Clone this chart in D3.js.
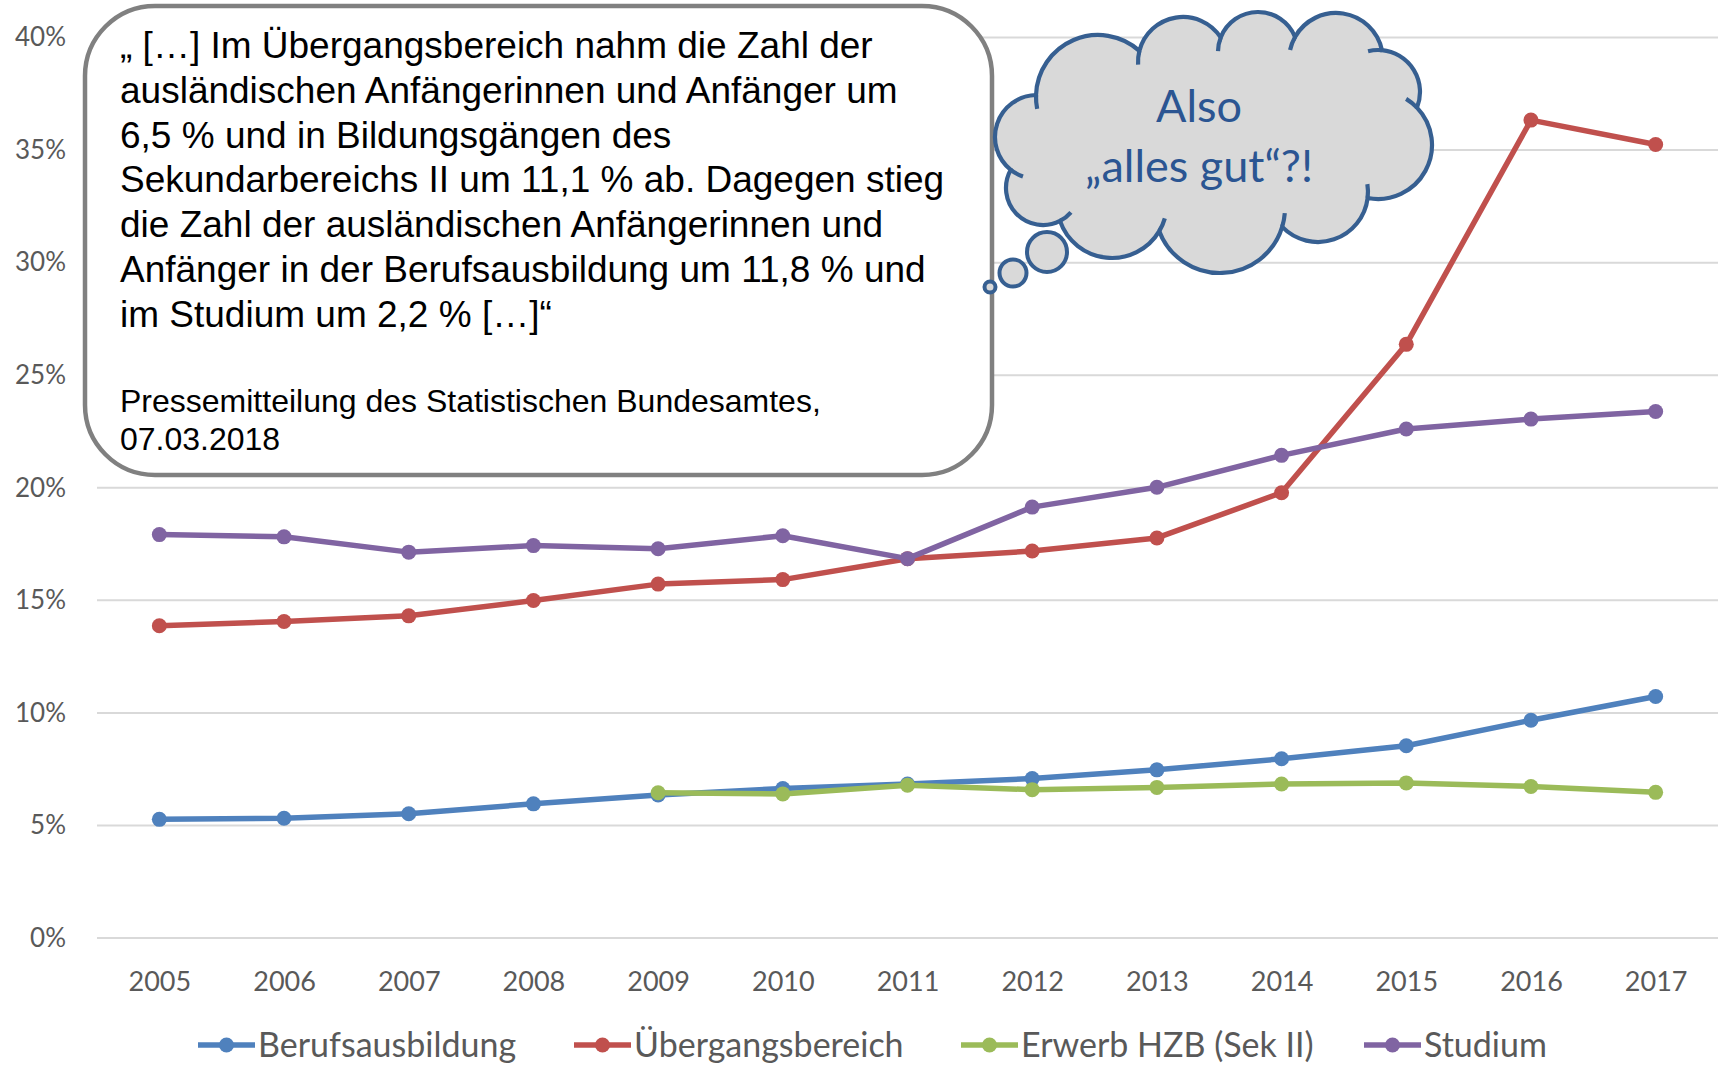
<!DOCTYPE html>
<html><head><meta charset="utf-8">
<script src="https://cdn.jsdelivr.net/npm/d3@7"></script>
<style>body{margin:0;background:#fff}svg{display:block}</style>
</head><body>
<svg id="c" width="1725" height="1065"></svg>
<script>
const years = [2005,2006,2007,2008,2009,2010,2011,2012,2013,2014,2015,2016,2017];
const berufsausbildung = [5.27,5.32,5.52,5.96,6.35,6.64,6.84,7.08,7.47,7.96,8.54,9.67,10.73];
const uebergangsbereich = [13.87,14.06,14.31,14.99,15.72,15.92,16.85,17.19,17.77,19.78,26.37,36.33,35.25];
const erwerbHZB = [null,null,null,null,6.45,6.40,6.79,6.59,6.69,6.84,6.89,6.73,6.47];
const studium = [17.92,17.82,17.14,17.43,17.29,17.87,16.85,19.14,20.02,21.44,22.61,23.05,23.39];
const seriesNames = ["Berufsausbildung","Übergangsbereich","Erwerb HZB (Sek II)","Studium"];
const seriesColors = ["#4F81BD","#C0504D","#9BBB59","#8064A2"];
const yTicks = [0,5,10,15,20,25,30,35,40];
const quoteLines = ["„ […] Im Übergangsbereich nahm die Zahl der","ausländischen Anfängerinnen und Anfänger um","6,5 % und in Bildungsgängen des","Sekundarbereichs II um 11,1 % ab. Dagegen stieg","die Zahl der ausländischen Anfängerinnen und","Anfänger in der Berufsausbildung um 11,8 % und","im Studium um 2,2 % […]“"];
const sourceLines = ["Pressemitteilung des Statistischen Bundesamtes,","07.03.2018"];
const cloudLines = ["Also","„alles gut“?!"];

const svg = d3.select("#c");
const x = d3.scalePoint().domain(years).range([97,1718]).padding(0.5);
const y = d3.scaleLinear().domain([0,40]).range([938,37.5]);
const axisFont = "Lato, 'Open Sans', sans-serif";

// grid
svg.append("g").selectAll("line").data(yTicks).join("line")
  .attr("x1",97).attr("x2",1718).attr("y1",d=>y(d)).attr("y2",d=>y(d))
  .attr("stroke","#d9d9d9").attr("stroke-width",2);
// y axis labels
const ya = svg.append("g").attr("transform","translate(66,0)")
  .call(d3.axisLeft(y).tickValues(yTicks).tickSize(0).tickPadding(0).tickFormat(d=>d+"%"));
ya.select(".domain").remove();
ya.selectAll("text").attr("font-family",axisFont).attr("font-size",26).attr("fill","#595959");
// x axis labels
const xa = svg.append("g").attr("transform","translate(0,972)")
  .call(d3.axisBottom(x).tickSize(0).tickPadding(0));
xa.select(".domain").remove();
xa.selectAll("text").attr("font-family",axisFont).attr("font-size",27).attr("fill","#595959");

const allSeries = [berufsausbildung,uebergangsbereich,erwerbHZB,studium];
const line = d3.line().defined(d=>d.v!=null).x(d=>x(d.year)).y(d=>y(d.v));
allSeries.forEach((vals,i)=>{
  const data = years.map((yr,j)=>({year:yr,v:vals[j]}));
  const g = svg.append("g");
  g.append("path").datum(data).attr("d",line).attr("fill","none")
    .attr("stroke",seriesColors[i]).attr("stroke-width",5.5).attr("stroke-linejoin","round");
  g.selectAll("circle").data(data.filter(d=>d.v!=null)).join("circle")
    .attr("cx",d=>x(d.year)).attr("cy",d=>y(d.v)).attr("r",7.5).attr("fill",seriesColors[i]);
});

// legend
const legX = [198,574,961,1364];
const lg = svg.append("g").attr("transform","translate(0,1045)");
seriesNames.forEach((n,i)=>{
  lg.append("line").attr("x1",legX[i]).attr("x2",legX[i]+57).attr("y1",0).attr("y2",0)
    .attr("stroke",seriesColors[i]).attr("stroke-width",5.5);
  lg.append("circle").attr("cx",legX[i]+28.5).attr("cy",0).attr("r",7.5).attr("fill",seriesColors[i]);
  lg.append("text").attr("x",legX[i]+60).attr("y",0).attr("dy","0.35em")
    .attr("font-family",axisFont).attr("font-size",34).attr("fill","#595959").text(n);
});

// quote box
svg.append("rect").attr("x",85).attr("y",6).attr("width",907).attr("height",469)
  .attr("rx",70).attr("ry",70).attr("fill","#fff").attr("stroke","#808080").attr("stroke-width",4.5);
const qt = svg.append("g").attr("font-family","'Liberation Sans', Arial, sans-serif").attr("fill","#000");
quoteLines.forEach((t,i)=>{
  qt.append("text").attr("x",120).attr("y",58+i*44.8).attr("font-size",37).text(t);
});
sourceLines.forEach((t,i)=>{
  qt.append("text").attr("x",120).attr("y",412+i*38).attr("font-size",32).text(t);
});

// cloud (clockwise lobes)
const cloudStroke = "#365F91", cloudFill = "#D9D9D9";
const lobes = [[1098,97,62],[1183,62,45],[1258,52,40],[1336,60,47],[1378,92,42],[1378,145,54],
  [1318,192,50],[1220,208,65],[1112,203,55],[1043,188,37],[1037,137,42]];
const cc = [1200,140];
function inter(a,b){
  const dx=b[0]-a[0], dy=b[1]-a[1], d=Math.hypot(dx,dy);
  const l=(a[2]*a[2]-b[2]*b[2]+d*d)/(2*d), h=Math.sqrt(Math.max(0,a[2]*a[2]-l*l));
  const mx=a[0]+l*dx/d, my=a[1]+l*dy/d;
  const p1=[mx+h*dy/d,my-h*dx/d], p2=[mx-h*dy/d,my+h*dx/d];
  const d1=Math.hypot(p1[0]-cc[0],p1[1]-cc[1]), d2=Math.hypot(p2[0]-cc[0],p2[1]-cc[1]);
  return d1>d2?p1:p2;
}
const n = lobes.length;
const pts = lobes.map((l,i)=>inter(l,lobes[(i+1)%n]));
let pd = "";
lobes.forEach((l,i)=>{
  const s = pts[(i-1+n)%n], e = pts[i];
  const a0=Math.atan2(s[1]-l[1],s[0]-l[0]), a1=Math.atan2(e[1]-l[1],e[0]-l[0]);
  let da=a1-a0; while(da<0) da+=2*Math.PI;
  if(i===0) pd += `M${s[0]},${s[1]}`;
  pd += `A${l[2]},${l[2]} 0 ${da>Math.PI?1:0} 1 ${e[0]},${e[1]}`;
});
pd += "Z";
const cg = svg.append("g");
cg.append("path").attr("d",pd).attr("fill",cloudFill).attr("stroke",cloudStroke).attr("stroke-width",4.2);
lobes.forEach((l,i)=>{
  const s = pts[(i-1+n)%n];
  const a0=Math.atan2(s[1]-l[1],s[0]-l[0]);
  const b = a0-14/l[2];
  cg.append("path").attr("d",`M${l[0]+l[2]*Math.cos(b)},${l[1]+l[2]*Math.sin(b)}A${l[2]},${l[2]} 0 0 1 ${s[0]},${s[1]}`)
    .attr("fill","none").attr("stroke",cloudStroke).attr("stroke-width",4.2);
});
const bubbles = [[1047,252,20],[1013,273,13.5],[990,287,5.5]];
cg.selectAll("circle.b").data(bubbles).join("circle").attr("class","b")
  .attr("cx",d=>d[0]).attr("cy",d=>d[1]).attr("r",d=>d[2]).attr("fill",cloudFill)
  .attr("stroke",cloudStroke).attr("stroke-width",4);
cloudLines.forEach((t,i)=>{
  cg.append("text").attr("x",1199).attr("y",122+i*60).attr("text-anchor","middle")
    .attr("font-family",axisFont).attr("font-size",45).attr("fill","#2B5592").text(t);
});
</script>
</body></html>
